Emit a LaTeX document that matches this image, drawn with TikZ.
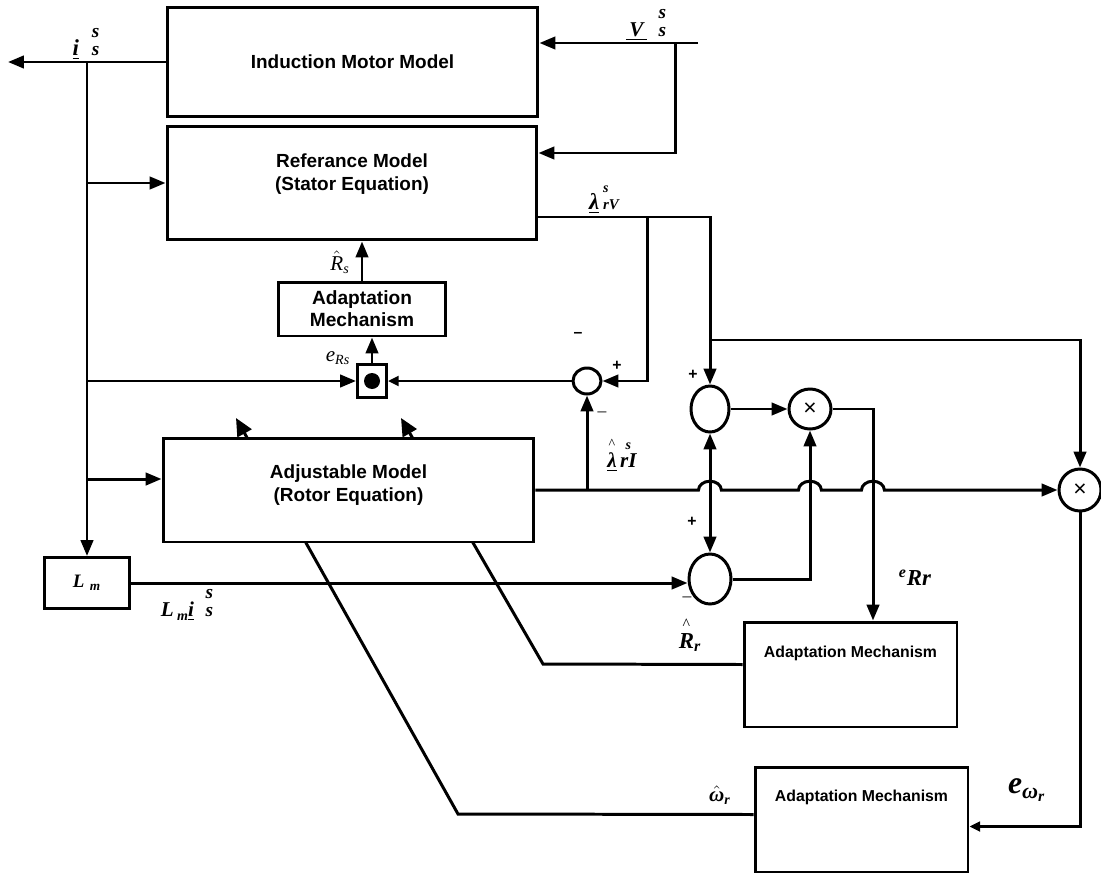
\documentclass[tikz,border=0pt]{standalone}
\usepackage{amsmath}
\usepackage{amssymb}
\usepackage{fontspec}
\setmainfont{Liberation Serif}
\setsansfont{Liberation Sans}
\usetikzlibrary{calc, arrows.meta, shapes.geometric, backgrounds}
\newcommand{\tbi}[1]{\text{\rmfamily\bfseries\itshape #1}}
\newcommand{\tit}[1]{\text{\rmfamily\itshape #1}}
\newcommand{\sspair}{\shortstack{\bfseries\itshape s\\[2pt]\bfseries\itshape s}}
\newcommand{\hatof}[1]{\overset{\text{\rmfamily\^{}}}{#1}}

\begin{document}
\begin{tikzpicture}[x=0.02cm,y=-0.02cm,line width=1.7pt,>={Triangle[length=9pt,width=7pt]},
  block/.style={draw,fill=white,inner sep=0pt,align=center,font=\sffamily\bfseries\fontsize{10.8}{13}\selectfont},
  btext/.style={inner sep=0pt,align=center,font=\sffamily\bfseries\fontsize{10.8}{13}\selectfont},
  junc/.style={draw,ellipse,inner sep=0pt,fill=white,font=\sffamily\fontsize{13}{13}\selectfont},
  lbl/.style={inner sep=0pt,font=\fontsize{12}{14}\selectfont},
  sgn/.style={inner sep=0pt,font=\sffamily\bfseries\fontsize{9}{9}\selectfont},
  small/.style={-{Triangle[length=6pt,width=5.5pt]}},
  param/.style={line width=1.7pt,-{Triangle[length=10pt,width=9pt]}}]
\useasboundingbox (0,0) rectangle (1101,875);

% blocks
\node [block,minimum width=7.42cm,minimum height=2.2cm] (imm) at (352.5,62) {Induction Motor Model};
\node [block,minimum width=7.4cm,minimum height=2.28cm] (refm) at (352,183) {};
\node [btext] (refmtxt) at ($(refm.center)+(0,-9)$) {Referance Model\\(Stator Equation)};
\node [block,minimum width=3.36cm,minimum height=1.08cm,font=\sffamily\bfseries\fontsize{10.9}{12.5}\selectfont] (adapS) at (362,309) {Adaptation\\Mechanism};
\node [block,minimum width=0.58cm,minimum height=0.66cm] (prodS) at (372,381) {};
\fill (prodS.center) circle[radius=0.16cm];
\node [block,minimum width=7.42cm,minimum height=2.08cm] (adj) at (348.5,490) {};
\node [btext] (adjtxt) at ($(adj.center)+(0,-5)$) {Adjustable Model\\(Rotor Equation)};
\node [block,minimum width=1.7cm,minimum height=1.02cm] (lm) at (87,583) {$\tbi{L}\;{}_{\tbi{m}}$};
\node [block,minimum width=4.26cm,minimum height=2.1cm] (adapRr) at (850.5,674.5) {};
\node [block,minimum width=4.26cm,minimum height=2.1cm] (adapW) at (861.5,819.5) {};
\node [lbl,font=\sffamily\bfseries\fontsize{9}{11}\selectfont] (adapRrtxt) at ($(adapRr.center)+(0,-21)$) {Adaptation Mechanism};
\node [lbl,font=\sffamily\bfseries\fontsize{9}{11}\selectfont] (adapWtxt) at ($(adapW.center)+(0,-22)$) {Adaptation Mechanism};

% summing and product junctions
\node [junc,minimum width=0.56cm,minimum height=0.52cm] (sum1) at (587,381) {};
\node [junc,minimum width=0.76cm,minimum height=0.92cm] (sum2) at (710,409) {};
\node [junc,minimum width=0.84cm,minimum height=0.8cm] (mult1) at (810,409) {×};
\node [junc,minimum width=0.84cm,minimum height=1.0cm] (sum3) at (710,579) {};
\node [junc,minimum width=0.84cm,minimum height=0.84cm] (mult2) at (1080,490) {×};

\coordinate (isout) at (8,62);
\coordinate (bus) at (87,62);
\coordinate (vin) at (698,43);
\coordinate (vsplit) at (675,43);
\coordinate (refin) at (0,153);
\coordinate (adjin) at (0,479);
\coordinate (lrv) at (0,217);
\coordinate (lrvsplit) at (647,217);
\coordinate (wsplit) at (0,340);

% stator current and voltage
\draw [->] (imm.west) -- (isout);
\draw [->] (bus) -- (lm.north);
\draw [->] (bus |- refm.west) -- (refm.west);
\draw [->] (bus |- prodS.west) -- (prodS.west);
\draw [->] (bus |- adjin) -- (adj.west |- adjin);
\draw [->] (vin) -- (vin -| imm.east);
\draw [->] (vsplit) |- (refm.east |- refin);

% reference model flux
\draw [->] (refm.east |- lrv) -| (sum2.north);
\draw [->] (lrvsplit) |- (sum1.east);
\draw [->] (sum2.north |- wsplit) -| (mult2.north);
\draw [small] (sum1.west) -- (prodS.east);
\draw [->] (prodS.north) -- (prodS.north |- adapS.south);
\draw [->] (adapS.north) -- (adapS.north |- refm.south);

% adjustable model flux, with bridges
\draw [->] (adj.east) -- (698.5,490) arc[start angle=180,end angle=0,x radius=6.5pt,y radius=5pt]
  -- (798.5,490) arc[start angle=180,end angle=0,x radius=6.5pt,y radius=5pt]
  -- (861.5,490) arc[start angle=180,end angle=0,x radius=6.5pt,y radius=5pt] -- (mult2.west);
\draw [->] (sum1.south |- adj.east) -- (sum1.south);
\draw [<->] (sum2.south) -- (sum3.north);
\draw [->] (sum2.east) -- (mult1.west);
\draw [->] (lm.east) -- (sum3.west |- lm.east);
\draw [->] (sum3.east) -| (mult1.south);
\draw [->] (mult1.east) -| ($(adapRr.north)+(22.5,0)$);
\draw [small] (mult2.south) |- ($(adapW.east)+(0,7)$);

% estimated parameters back to the adjustable model
\begin{pgfonlayer}{background}
\draw [param] ($(adapRr.west)+(0,-10)$) -- (543,664) -- (401,418);
\draw [param] ($(adapW.west)+(0,-5)$) -- (458,814) -- (236,418);
\end{pgfonlayer}

% labels
\node [lbl,font=\fontsize{13}{15}\selectfont] (lis) at (86,44) {\underline{\bfseries\itshape i}\;\;{\fontsize{11}{11}\selectfont\sspair}};
\node [lbl] (lvs) at (646,25) {\underline{\,\bfseries\itshape V\,}\;\;{\fontsize{11}{11}\selectfont\sspair}};
\node [lbl,font=\fontsize{13}{15}\selectfont] (llrv) at (604,200) {\underline{\bfseries\itshape λ}\,\shortstack[l]{\bfseries\itshape\fontsize{8}{8}\selectfont s\\[1pt]\bfseries\itshape\fontsize{8.5}{8.5}\selectfont rV}};
\node [lbl] (lrs) at (340,262) {$\hat{\tit{R}}_{\tit{s}}$};
\node [lbl] (lers) at (338,358) {$\tit{e}_{\tit{Rs}}$};
\node [sgn] (m1) at (578,335) {–};
\node [sgn] (p1) at (617,366) {+};
\node [lbl,font=\fontsize{10}{10}\selectfont] (m2) at (602,414) {–};
\node [lbl] (llri) at (622,454) {$\underline{\hatof{\tbi{λ}}}\,\overset{\tbi{s}}{\tbi{rI}}$};
\node [sgn] (p2) at (693,375) {+};
\node [sgn] (p3) at (692,522) {+};
\node [lbl,font=\fontsize{10}{10}\selectfont] (m3) at (687,599) {–};
\node [lbl] (llmi) at (187,605) {\bfseries\itshape L\,{\fontsize{8}{8}\selectfont\raisebox{-2pt}{m}}\underline{i}\;\;{\fontsize{11}{11}\selectfont\sspair}};
\node [lbl,font=\fontsize{13}{15}\selectfont] (lrr) at (690,634) {$\hatof{\tbi{R}}_{\tbi{r}}$};
\node [lbl,font=\fontsize{13}{15}\selectfont] (lerr) at (915,578) {${}^{\tbi{e}}\tbi{Rr}$};
\node [lbl] (lwr) at (720,795) {$\hat{\tbi{ω}}_{\tbi{r}}$};
\node [lbl,font=\fontsize{18}{20}\selectfont] (lewr) at (1027,790) {$\tbi{e}_{\tbi{ω}_{\tbi{r}}}$};
\end{tikzpicture}
\end{document}
